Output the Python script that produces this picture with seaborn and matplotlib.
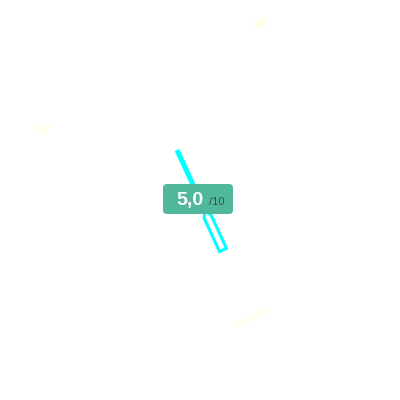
import numpy as np
import matplotlib
matplotlib.use("Agg")
import matplotlib.pyplot as plt
from matplotlib.patches import Polygon, FancyBboxPatch
import seaborn as sns

# gauge reading
score = 5.0
score_max = 10
score_text = "5,0"
max_text = "/10"

# faint labels around the dial
side_labels = ["99", "97", "Spielzeit"]

sns.set_theme(style="white")
plt.rcParams['font.family'] = ['DejaVu Sans']

fig = plt.figure(figsize=(4, 4), dpi=100)
ax = fig.add_axes([0, 0, 1, 1])
ax.set_xlim(-200, 200)
ax.set_ylim(-200, 200)
ax.set_aspect("equal")
ax.axis("off")

# needle: dial turns 180 deg clockwise from 0 to max
gauge_start = 204.7
gauge_sweep = 180.0
ang = np.deg2rad(gauge_start - score / score_max * gauge_sweep)
d = np.array([np.cos(ang), np.sin(ang)])
n = np.array([-d[1], d[0]])
half_len = 55
tip = d * half_len
base = -d * half_len
joint = -d * 12
cyan = "#00ffff"

# solid pointer part
ax.plot([tip[0], joint[0]], [tip[1], joint[1]], color=cyan, lw=3.6,
        solid_capstyle="butt", zorder=2)
# hollow tail
w = 3.8
tail = Polygon([joint, joint - d * 6 + n * w, base + n * w,
                base - n * w, joint - d * 6 - n * w],
               closed=True, fill=False, edgecolor=cyan, linewidth=2.2,
               joinstyle="miter", zorder=2)
ax.add_patch(tail)

# value badge
box = FancyBboxPatch((-35 - 2, -15 + 1), 70, 30,
                     boxstyle="round,pad=0,rounding_size=4",
                     facecolor="#52b89c", edgecolor="none", zorder=3)
ax.add_patch(box)
ax.text(-10, 0, score_text, color="white", fontsize=14, fontweight="bold",
        family="Liberation Sans", ha="center", va="center", zorder=4)
ax.text(17, -2, max_text, color="#3d4a45", fontsize=8,
        family="Liberation Sans", ha="center", va="center", zorder=4)

yellow = "#ffffd0"
ax.text(59, 175, side_labels[0], color=yellow, fontsize=9,
        ha="center", va="center")
ax.text(-157, 70, side_labels[1], color=yellow, fontsize=9,
        ha="center", va="center")
ax.text(51, -118, side_labels[2], color=yellow, fontsize=8,
        family="Liberation Serif", rotation=28, ha="center", va="center")

fig.savefig("out.png", dpi=100)
